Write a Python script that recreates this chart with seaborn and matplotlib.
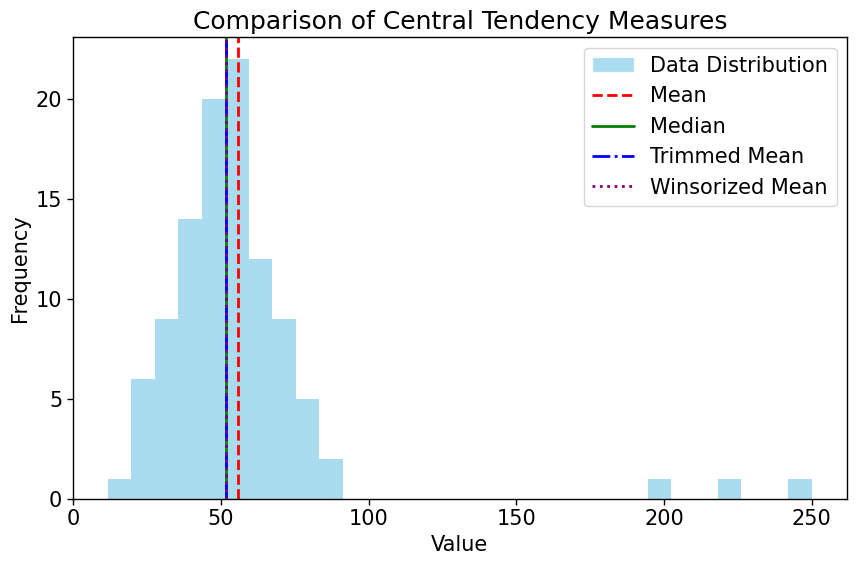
import matplotlib
matplotlib.use("Agg")
import matplotlib.pyplot as plt
import numpy as np
import pandas as pd
import seaborn as sns
from matplotlib.lines import Line2D
from matplotlib.patches import Patch

# Histogram: 30 equal bins between min and max
DATA_MIN = 11.8
DATA_MAX = 250.0
BIN_COUNTS = [1, 6, 9, 14, 20, 22, 12, 9, 5, 2,
              0, 0, 0, 0, 0, 0, 0, 0, 0, 0,
              0, 0, 0, 1, 0, 0, 1, 0, 0, 1]

# Central tendency measures
MEASURE_NAMES = ["Mean", "Median", "Trimmed Mean", "Winsorized Mean"]
MEASURE_VALUES = [55.9, 51.9, 51.6, 51.6]
MEASURE_COLORS = ["red", "green", "blue", "purple"]
MEASURE_STYLES = ["--", "-", "-.", ":"]

sns.set_style("ticks", rc={
    "text.color": "black",
    "axes.labelcolor": "black",
    "axes.edgecolor": "black",
    "xtick.color": "black",
    "ytick.color": "black",
})
plt.rcParams["font.family"] = ["DejaVu Sans"]

edges = np.linspace(DATA_MIN, DATA_MAX, len(BIN_COUNTS) + 1)
df = pd.DataFrame({
    "value": (edges[:-1] + edges[1:]) / 2,
    "count": BIN_COUNTS,
})

fig = plt.figure(figsize=(8.56, 5.64), dpi=100)
ax = fig.add_axes([72.7 / 856, 65 / 564, (847 - 72.7) / 856, (499 - 37.3) / 564])

sns.histplot(data=df, x="value", weights="count", bins=list(edges),
             color="skyblue", alpha=0.7, linewidth=0, ax=ax)

handles = [Patch(facecolor="skyblue", alpha=0.7, label="Data Distribution")]
for name, val, col, ls in zip(MEASURE_NAMES, MEASURE_VALUES, MEASURE_COLORS,
                              MEASURE_STYLES):
  ax.axvline(val, color=col, linestyle=ls, linewidth=2)
  handles.append(Line2D([], [], color=col, linestyle=ls, linewidth=2,
                        label=name))

ax.set_title("Comparison of Central Tendency Measures", fontsize=18)
ax.set_xlabel("Value", fontsize=15)
ax.set_ylabel("Frequency", fontsize=15)
ax.tick_params(axis="both", labelsize=15, length=4, width=1)
for s in ax.spines.values():
  s.set_visible(True)
  s.set_linewidth(1)
ax.legend(handles=handles, fontsize=15, loc="upper right")

fig.savefig("out.png", dpi=100)
